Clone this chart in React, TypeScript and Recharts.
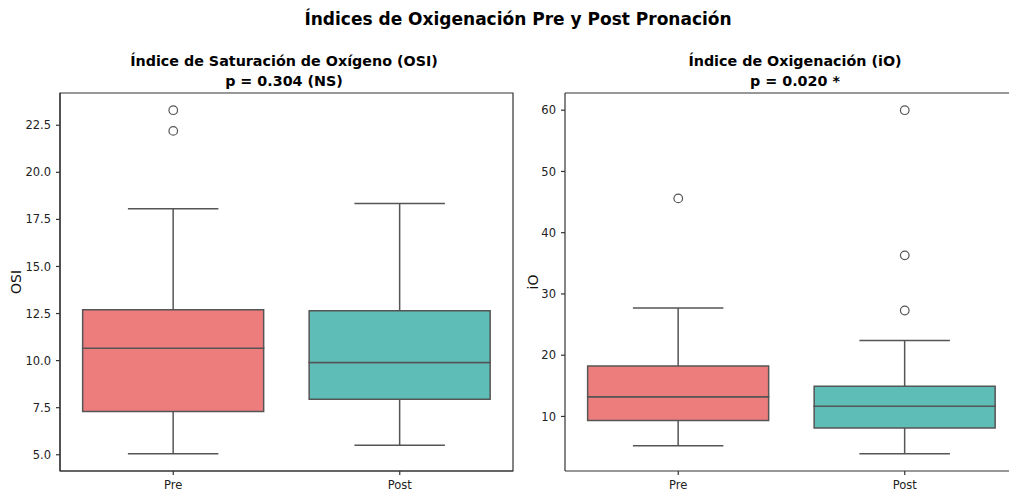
import React from 'react';
import { ComposedChart, Bar, Line, XAxis, YAxis, Cell, ReferenceArea, ReferenceLine } from 'recharts';

const categories = ['Pre', 'Post'];
const boxColors = ['#ED7D7D', '#5EBDB7'];

const osiLowerWhisker = [5.05, 5.5];
const osiQ1 = [7.3, 7.95];
const osiMedian = [10.65, 9.9];
const osiQ3 = [12.7, 12.65];
const osiUpperWhisker = [18.07, 18.35];
const osiOutliers = [[23.3, 22.2], []];
const osiTicks = [5, 7.5, 10, 12.5, 15, 17.5, 20, 22.5];

const ioLowerWhisker = [5.2, 3.9];
const ioQ1 = [9.35, 8.1];
const ioMedian = [13.2, 11.65];
const ioQ3 = [18.25, 14.95];
const ioUpperWhisker = [27.7, 22.4];
const ioOutliers = [[45.6], [60.0, 36.3, 27.3]];
const ioTicks = [10, 20, 30, 40, 50, 60];

const FONT = 'DejaVu Sans, Verdana, sans-serif';
const LINE = '#555555';
const AXIS = { stroke: '#333333', strokeWidth: 1.2 };

type Row = Record<string, any>;

function buildRows(lo: number[], q1: number[], med: number[], q3: number[], hi: number[], outs: number[][]): Row[] {
  return categories.map((cat, i) => {
    const r: Row = {
      cat,
      base: lo[i],
      lowW: q1[i] - lo[i],
      lowBox: med[i] - q1[i],
      upBox: q3[i] - med[i],
      upW: hi[i] - q3[i],
    };
    [0, 1, 2].forEach((k) => {
      r['o' + k] = outs[i][k] !== undefined ? outs[i][k] : null;
    });
    return r;
  });
}

function paddedDomain(lo: number[], hi: number[], outs: number[][]): [number, number] {
  const all = [...lo, ...hi, ...outs.flat()];
  const mn = Math.min(...all);
  const mx = Math.max(...all);
  const pad = (mx - mn) * 0.05;
  return [mn - pad, mx + pad];
}

const LowerWhisker = (props: any) => {
  const { x, y, width, height } = props;
  const cx = x + width / 2;
  return (
    <g>
      <line x1={cx} x2={cx} y1={y} y2={y + height} stroke={LINE} strokeWidth={1.5} />
      <line x1={x + width / 4} x2={x + (3 * width) / 4} y1={y + height} y2={y + height} stroke={LINE} strokeWidth={1.5} />
    </g>
  );
};

const UpperWhisker = (props: any) => {
  const { x, y, width, height } = props;
  const cx = x + width / 2;
  return (
    <g>
      <line x1={cx} x2={cx} y1={y} y2={y + height} stroke={LINE} strokeWidth={1.5} />
      <line x1={x + width / 4} x2={x + (3 * width) / 4} y1={y} y2={y} stroke={LINE} strokeWidth={1.5} />
    </g>
  );
};

function BoxPanel(props: {
  rows: Row[];
  domain: [number, number];
  ticks: number[];
  fmt: (v: number) => string;
  fullFrame: boolean;
  width: number;
  marginRight: number;
}) {
  const { rows, domain, ticks, fmt, fullFrame, width, marginRight } = props;
  const tickStyle = { fontSize: 11.5, fill: '#222', fontFamily: FONT };
  return (
    <ComposedChart
      width={width}
      height={496}
      data={rows}
      margin={{ top: 93, right: marginRight, bottom: 0, left: 10 }}
      barCategoryGap="10%"
      accessibilityLayer={false}
    >
      <XAxis
        dataKey="cat"
        type="category"
        height={25}
        interval={0}
        tickSize={4}
        tickMargin={6}
        tick={tickStyle}
        axisLine={AXIS}
        tickLine={AXIS}
      />
      <YAxis
        type="number"
        domain={domain}
        allowDataOverflow
        ticks={ticks}
        interval={0}
        tickFormatter={fmt}
        width={50}
        tickSize={4}
        tickMargin={5}
        tick={tickStyle}
        axisLine={AXIS}
        tickLine={AXIS}
      />
      <Bar dataKey="base" stackId="b" fill="none" stroke="none" isAnimationActive={false} />
      <Bar dataKey="lowW" stackId="b" shape={LowerWhisker} isAnimationActive={false} />
      <Bar dataKey="lowBox" stackId="b" stroke={LINE} strokeWidth={1.5} isAnimationActive={false}>
        {rows.map((r, i) => (
          <Cell key={r.cat} fill={boxColors[i]} />
        ))}
      </Bar>
      <Bar dataKey="upBox" stackId="b" stroke={LINE} strokeWidth={1.5} isAnimationActive={false}>
        {rows.map((r, i) => (
          <Cell key={r.cat} fill={boxColors[i]} />
        ))}
      </Bar>
      <Bar dataKey="upW" stackId="b" shape={UpperWhisker} isAnimationActive={false} />
      {[0, 1, 2].map((k) => (
        <Line
          key={k}
          dataKey={'o' + k}
          stroke="none"
          dot={{ r: 4.3, fill: 'none', stroke: LINE, strokeWidth: 1.2 }}
          activeDot={false}
          isAnimationActive={false}
        />
      ))}
      {fullFrame ? (
        <ReferenceArea
          y1={domain[0]}
          y2={domain[1]}
          fill="none"
          fillOpacity={0}
          stroke={AXIS.stroke}
          strokeWidth={AXIS.strokeWidth}
          ifOverflow="visible"
        />
      ) : (
        <ReferenceLine y={domain[1]} stroke={AXIS.stroke} strokeWidth={AXIS.strokeWidth} ifOverflow="visible" />
      )}
    </ComposedChart>
  );
}

export default function App() {
  const osiRows = buildRows(osiLowerWhisker, osiQ1, osiMedian, osiQ3, osiUpperWhisker, osiOutliers);
  const ioRows = buildRows(ioLowerWhisker, ioQ1, ioMedian, ioQ3, ioUpperWhisker, ioOutliers);
  const osiDomain = paddedDomain(osiLowerWhisker, osiUpperWhisker, osiOutliers);
  const ioDomain = paddedDomain(ioLowerWhisker, ioUpperWhisker, ioOutliers);
  return (
    <div style={{ position: 'absolute', left: 0, top: 0, width: 1009, height: 496, overflow: 'hidden', background: '#fff', fontFamily: FONT }}>
      <div style={{ position: 'absolute', left: 0, top: 0, width: 520, height: 496 }}>
        <BoxPanel rows={osiRows} domain={osiDomain} ticks={osiTicks} fmt={(v) => v.toFixed(1)} fullFrame width={520} marginRight={7} />
      </div>
      <div style={{ position: 'absolute', left: 505, top: 0, width: 504, height: 496, overflow: 'hidden' }}>
        <BoxPanel rows={ioRows} domain={ioDomain} ticks={ioTicks} fmt={(v) => String(v)} fullFrame={false} width={540} marginRight={27} />
      </div>
      <svg width={1009} height={496} style={{ position: 'absolute', left: 0, top: 0, pointerEvents: 'none' }}>
        <text x={518} y={25} textAnchor="middle" fontFamily={FONT} fontWeight="bold" fontSize={17} fill="#000">
          Índices de Oxigenación Pre y Post Pronación
        </text>
        <text x={284} y={66} textAnchor="middle" fontFamily={FONT} fontWeight="bold" fontSize={14.3} fill="#000">
          Índice de Saturación de Oxígeno (OSI)
        </text>
        <text x={284} y={86} textAnchor="middle" fontFamily={FONT} fontWeight="bold" fontSize={14.3} fill="#000">
          p = 0.304 (NS)
        </text>
        <text x={795} y={66} textAnchor="middle" fontFamily={FONT} fontWeight="bold" fontSize={14.3} fill="#000">
          Índice de Oxigenación (iO)
        </text>
        <text x={795} y={86} textAnchor="middle" fontFamily={FONT} fontWeight="bold" fontSize={14.3} fill="#000">
          p = 0.020 *
        </text>
        <text transform="translate(21,282) rotate(-90)" textAnchor="middle" fontFamily={FONT} fontSize={14} fill="#111">
          OSI
        </text>
        <text transform="translate(538,282) rotate(-90)" textAnchor="middle" fontFamily={FONT} fontSize={14} fill="#111">
          iO
        </text>
      </svg>
    </div>
  );
}
